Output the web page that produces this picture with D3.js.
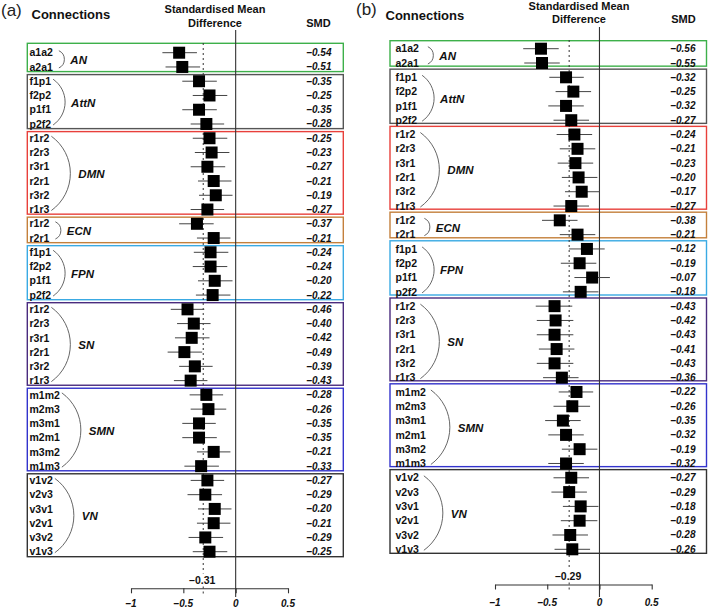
<!DOCTYPE html>
<html>
<head>
<meta charset="utf-8">
<script src="https://cdn.jsdelivr.net/npm/d3@7"></script>
<style>
  body { margin:0; background:#fff; }
  svg { display:block; font-family:"Liberation Sans", Arial, Helvetica, sans-serif; }
</style>
</head>
<body>
<svg id="chart" width="709" height="610"></svg>
<script>
// ---------------- DATA ----------------
const groups = ["AN","AttN","DMN","ECN","FPN","SN","SMN","VN"];
const groupSizes = [2,4,6,2,4,6,6,6];
const groupColors = ["#3db04a","#555555","#e8403b","#c4803c","#3aaae3","#4a2c7e","#3333cc","#333333"];
const connections = ["a1a2","a2a1","f1p1","f2p2","p1f1","p2f2","r1r2","r2r3","r3r1","r2r1","r3r2","r1r3",
  "r1r2","r2r1","f1p1","f2p2","p1f1","p2f2","r1r2","r2r3","r3r1","r2r1","r3r2","r1r3",
  "m1m2","m2m3","m3m1","m2m1","m3m2","m1m3","v1v2","v2v3","v3v1","v2v1","v3v2","v1v3"];

const smdA = [-0.54,-0.51,-0.35,-0.25,-0.35,-0.28,-0.25,-0.23,-0.27,-0.21,-0.19,-0.27,-0.37,-0.21,-0.24,-0.24,-0.20,-0.22,
  -0.46,-0.40,-0.42,-0.49,-0.39,-0.43,-0.28,-0.26,-0.35,-0.35,-0.21,-0.33,-0.27,-0.29,-0.20,-0.21,-0.29,-0.25];
const loA = [-0.70,-0.67,-0.51,-0.41,-0.51,-0.43,-0.41,-0.39,-0.43,-0.36,-0.35,-0.43,-0.54,-0.37,-0.40,-0.41,-0.36,-0.38,
  -0.62,-0.56,-0.58,-0.65,-0.54,-0.59,-0.44,-0.43,-0.51,-0.51,-0.37,-0.49,-0.43,-0.46,-0.36,-0.37,-0.45,-0.41];
const hiA = [-0.37,-0.34,-0.18,-0.08,-0.18,-0.11,-0.08,-0.06,-0.10,-0.04,-0.03,-0.11,-0.21,-0.05,-0.07,-0.08,-0.03,-0.05,
  -0.30,-0.24,-0.25,-0.32,-0.22,-0.27,-0.12,-0.09,-0.19,-0.18,-0.05,-0.16,-0.11,-0.13,-0.04,-0.05,-0.12,-0.08];

const smdB = [-0.56,-0.55,-0.32,-0.25,-0.32,-0.27,-0.24,-0.21,-0.23,-0.20,-0.17,-0.27,-0.38,-0.21,-0.12,-0.19,-0.07,-0.18,
  -0.43,-0.42,-0.43,-0.41,-0.43,-0.36,-0.22,-0.26,-0.35,-0.32,-0.19,-0.32,-0.27,-0.29,-0.18,-0.19,-0.28,-0.26];
const loB = [-0.73,-0.72,-0.48,-0.42,-0.49,-0.44,-0.41,-0.38,-0.40,-0.36,-0.33,-0.44,-0.55,-0.38,-0.29,-0.37,-0.24,-0.35,
  -0.61,-0.60,-0.60,-0.58,-0.60,-0.54,-0.39,-0.44,-0.52,-0.49,-0.36,-0.49,-0.44,-0.46,-0.35,-0.37,-0.45,-0.43];
const hiB = [-0.39,-0.38,-0.15,-0.08,-0.15,-0.10,-0.07,-0.04,-0.06,-0.02,0.00,-0.10,-0.21,-0.04,0.05,-0.03,0.10,-0.01,
  -0.26,-0.25,-0.25,-0.24,-0.25,-0.20,-0.06,-0.09,-0.18,-0.15,-0.02,-0.15,-0.10,-0.12,-0.01,-0.02,-0.11,-0.09];

const summaryA = -0.31;
const summaryB = -0.29;
const tickValues = [-1, -0.5, 0, 0.5];
const tickLabels = ["\u20131", "\u20130.5", "0", "0.5"];
const panelTags = ["(a)", "(b)"];

// ---------------- LAYOUT ----------------
const panels = [
  { tag: panelTags[0], smd: smdA, lo: loA, hi: hiA, summary: summaryA,
    xL: 131, xR: 288, rowTop: 52.7, rowBot: 551.7, boxL: 27.3, boxR: 343.3,
    labelX: 29.5, smdX: 331.5, boxShift: -1, firstPad: 9.4, lastPad: 5,
    tagX: 1, tagY: 16, connX: 31.5, connY: 18.5, smhY1: 12.7, smhY2: 26.7, smhX: 215, smdHX: 318.5,
    zeroTop: 30, zeroBot: 597, dotTop: 43, sumY: 583.5, axisY: 588.3, tickLabY: 607, brGap: 2, lab6: 8 },
  { tag: panelTags[1], smd: smdB, lo: loB, hi: hiB, summary: summaryB,
    xL: 495, xR: 651.7, rowTop: 48.7, rowBot: 549.3, boxL: 390, boxR: 706.5,
    labelX: 395.5, smdX: 695.5, boxShift: -2.5, firstPad: 8, lastPad: 4,
    tagX: 356, tagY: 15, connX: 385.5, connY: 19.5, smhY1: 10, smhY2: 23, smhX: 579, smdHX: 683.5,
    zeroTop: 27, zeroBot: 597, dotTop: 40, sumY: 579.5, axisY: 584.5, tickLabY: 605.5, brGap: 5, lab6: 8 }
];

const svg = d3.select("#chart");
const fmt = v => (v < 0 ? "\u2013" : "") + Math.abs(v).toFixed(2);

panels.forEach(p => {
  const g = svg.append("g");
  const x = d3.scaleLinear().domain([-1, 0.5]).range([p.xL, p.xR]);
  const y = d3.scaleLinear().domain([0, connections.length - 1]).range([p.rowTop, p.rowBot]);

  let start = 0;
  const gInfo = groups.map((name, i) => {
    const s = start, e = start + groupSizes[i] - 1;
    start += groupSizes[i];
    return { name, s, e, color: groupColors[i], n: groupSizes[i] };
  });

  // boxes
  gInfo.forEach((gi, i) => {
    const top = i === 0 ? y(gi.s) - p.firstPad : (y(gInfo[i-1].e) + y(gi.s)) / 2 + p.boxShift + 1.5;
    const bot = i === gInfo.length - 1 ? y(gi.e) + p.lastPad : (y(gi.e) + y(gInfo[i+1].s)) / 2 + p.boxShift - 1.5;
    g.append("rect").attr("x", p.boxL).attr("y", top)
      .attr("width", p.boxR - p.boxL).attr("height", bot - top)
      .attr("fill", "none").attr("stroke", gi.color).attr("stroke-width", 1.4);
  });

  // header
  g.append("text").attr("x", p.tagX).attr("y", p.tagY).attr("font-size", 17).attr("fill", "#222").text(p.tag);
  g.append("text").attr("x", p.connX).attr("y", p.connY).attr("font-size", 13).attr("font-weight", "bold")
    .attr("fill", "#111").text("Connections");
  g.append("text").attr("x", p.smhX).attr("y", p.smhY1).attr("font-size", 11).attr("font-weight", "bold")
    .attr("text-anchor", "middle").attr("fill", "#111").text("Standardised Mean");
  g.append("text").attr("x", p.smhX).attr("y", p.smhY2).attr("font-size", 11).attr("font-weight", "bold")
    .attr("text-anchor", "middle").attr("fill", "#111").text("Difference");
  g.append("text").attr("x", p.smdHX).attr("y", p.smhY2).attr("font-size", 11).attr("font-weight", "bold")
    .attr("text-anchor", "middle").attr("fill", "#111").text("SMD");

  // summary dotted line
  const sx = x(p.summary);
  g.append("line").attr("x1", sx).attr("x2", sx).attr("y1", p.dotTop).attr("y2", p.sumY - 10)
    .attr("stroke", "#333").attr("stroke-width", 1).attr("stroke-dasharray", "2,3");
  g.append("line").attr("x1", sx).attr("x2", sx).attr("y1", p.sumY + 3).attr("y2", p.axisY + 8)
    .attr("stroke", "#333").attr("stroke-width", 1).attr("stroke-dasharray", "2,3");
  g.append("text").attr("x", sx - 1).attr("y", p.sumY).attr("font-size", 10.5).attr("font-weight", "bold")
    .attr("text-anchor", "middle").attr("fill", "#111").text(fmt(p.summary));

  // zero line
  g.append("line").attr("x1", x(0)).attr("x2", x(0)).attr("y1", p.zeroTop).attr("y2", p.zeroBot)
    .attr("stroke", "#333").attr("stroke-width", 1.1);

  // axis (ticks pointing down)
  const axis = d3.axisBottom(x).tickValues(tickValues).tickSize(5).tickSizeOuter(0).tickFormat("");
  const ax = g.append("g").attr("transform", `translate(0,${p.axisY})`).call(axis);
  ax.select(".domain").attr("stroke", "#333").attr("stroke-width", 1.1);
  ax.selectAll(".tick line").attr("stroke", "#333").attr("stroke-width", 1.1);
  g.selectAll(".ticklab").data(tickValues).enter().append("text")
    .attr("x", d => x(d)).attr("y", p.tickLabY).attr("font-size", 10).attr("font-weight", "bold")
    .attr("font-style", "italic").attr("text-anchor", "middle").attr("fill", "#111")
    .text((d, i) => tickLabels[i]);

  // CI lines
  g.selectAll(".ci").data(connections).enter().append("line")
    .attr("x1", (d, i) => x(p.lo[i])).attr("x2", (d, i) => x(p.hi[i]))
    .attr("y1", (d, i) => y(i)).attr("y2", (d, i) => y(i))
    .attr("stroke", "#444").attr("stroke-width", 1);

  // squares
  const sq = 12;
  g.selectAll(".sq").data(connections).enter().append("rect")
    .attr("x", (d, i) => x(p.smd[i]) - sq / 2).attr("y", (d, i) => y(i) - sq / 2)
    .attr("width", sq).attr("height", sq).attr("fill", "#000");

  // connection labels
  const labels = g.selectAll(".lab").data(connections).enter().append("text")
    .attr("x", p.labelX).attr("y", (d, i) => y(i)).attr("dy", "0.35em")
    .attr("font-size", 10.5).attr("font-weight", "bold").attr("fill", "#111").text(d => d);
  const widths = [];
  labels.each(function() { widths.push(this.getComputedTextLength()); });

  // SMD values
  g.selectAll(".smd").data(connections).enter().append("text")
    .attr("x", p.smdX).attr("y", (d, i) => y(i)).attr("dy", "0.35em")
    .attr("font-size", 10).attr("font-weight", "bold").attr("font-style", "italic")
    .attr("text-anchor", "end").attr("fill", "#111").text((d, i) => fmt(p.smd[i]));

  // brackets + group labels
  gInfo.forEach(gi => {
    const maxW = d3.max(widths.slice(gi.s, gi.e + 1));
    const x0 = p.labelX + maxW + p.brGap + (gi.n === 2 ? 4 : 0);
    const yT = y(gi.s) - 2, yB = y(gi.e) + 1;
    const b = gi.n === 2 ? 5.5 : gi.n === 4 ? 12 : 19;
    const c = yB - yT;
    const r = (c * c / 4 + b * b) / (2 * b);
    g.append("path").attr("d", `M${x0},${yT} A${r},${r} 0 0 1 ${x0},${yB}`)
      .attr("fill", "none").attr("stroke", "#555").attr("stroke-width", 0.9);
    g.append("text").attr("x", x0 + b + (gi.n === 6 ? p.lab6 : 6)).attr("y", (y(gi.s) + y(gi.e)) / 2).attr("dy", "0.35em")
      .attr("font-size", 11.5).attr("font-weight", "bold").attr("font-style", "italic")
      .attr("fill", "#111").text(gi.name);
  });
});
</script>
</body>
</html>
